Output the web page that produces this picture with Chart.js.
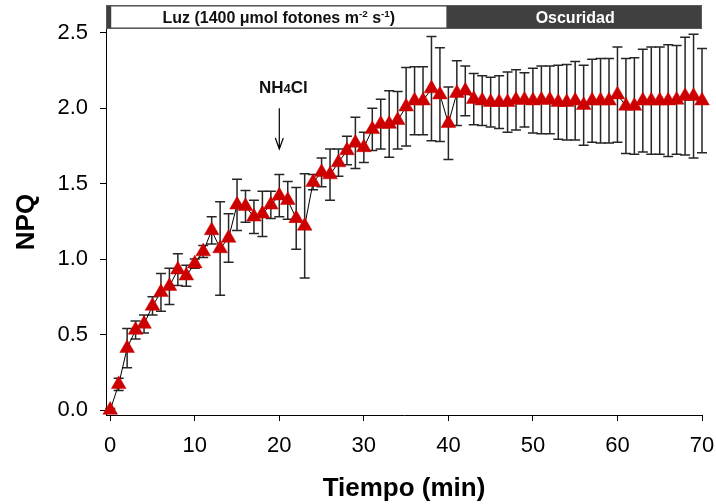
<!DOCTYPE html>
<html>
<head>
<meta charset="utf-8">
<script src="https://cdn.jsdelivr.net/npm/chart.js@4.4.1/dist/chart.umd.min.js"></script>
<style>
  html, body { margin: 0; padding: 0; background: #fff; }
  #wrap { width: 716px; height: 504px; }
</style>
</head>
<body>
<div id="wrap"><canvas id="npqChart" width="716" height="504"></canvas></div>
<script>
const FONT = '"Liberation Sans", Arial, Helvetica, sans-serif';

// tiempo (min)
const tiempo = [0, 1, 2, 3, 4, 5, 6, 7, 8, 9, 10, 11, 12, 13, 14, 15, 16, 17, 18, 19, 20,
  21, 22, 23, 24, 25, 26, 27, 28, 29, 30, 31, 32, 33, 34, 35, 36, 37, 38, 39, 40,
  41, 42, 43, 44, 45, 46, 47, 48, 49, 50, 51, 52, 53, 54, 55, 56, 57, 58, 59, 60,
  61, 62, 63, 64, 65, 66, 67, 68, 69, 70];

// NPQ medio
const npq = [0.00, 0.17, 0.41, 0.53, 0.57, 0.69, 0.78, 0.82, 0.93, 0.89, 0.97,
  1.05, 1.19, 1.07, 1.14, 1.36, 1.35, 1.28, 1.30, 1.36, 1.42,
  1.39, 1.27, 1.22, 1.51, 1.575, 1.56, 1.64, 1.72, 1.77, 1.74,
  1.86, 1.895, 1.895, 1.92, 2.01, 2.05, 2.05, 2.13, 2.09, 1.90,
  2.10, 2.115, 2.06, 2.05, 2.04, 2.04, 2.04, 2.055, 2.055, 2.05,
  2.055, 2.055, 2.04, 2.04, 2.05, 2.02, 2.05, 2.05, 2.05, 2.09,
  2.015, 2.015, 2.05, 2.05, 2.05, 2.05, 2.055, 2.08, 2.08, 2.05];

// desviacion estandar
const sd = [0.01, 0.04, 0.13, 0.06, 0.06, 0.06, 0.125, 0.12, 0.105, 0.07, 0.03,
  0.04, 0.09, 0.31, 0.16, 0.17, 0.105, 0.11, 0.15, 0.09, 0.14,
  0.125, 0.205, 0.345, 0.05, 0.095, 0.17, 0.09, 0.095, 0.17, 0.10,
  0.14, 0.165, 0.22, 0.19, 0.26, 0.225, 0.225, 0.345, 0.31, 0.24,
  0.215, 0.165, 0.17, 0.165, 0.165, 0.175, 0.2, 0.2, 0.18, 0.215,
  0.225, 0.225, 0.245, 0.25, 0.26, 0.265, 0.275, 0.28, 0.28, 0.315,
  0.315, 0.32, 0.34, 0.355, 0.355, 0.37, 0.36, 0.39, 0.41, 0.345];

const xTicks = [0, 10, 20, 30, 40, 50, 60, 70];
const yTicks = [0, 0.5, 1.0, 1.5, 2.0, 2.5];

// periodo de luz / oscuridad (min)
const luzInicio = 0, luzFin = 40, oscFin = 70;
// momento en que se agrega NH4Cl
const nh4clTiempo = 20;

const errorBars = {
  id: 'errorBars',
  beforeDatasetsDraw(chart) {
    const { ctx, scales: { x, y } } = chart;
    ctx.save();
    ctx.strokeStyle = '#262626';
    ctx.lineWidth = 1.5;
    tiempo.forEach((t, i) => {
      const px = x.getPixelForValue(t);
      const top = y.getPixelForValue(npq[i] + sd[i]);
      const bot = y.getPixelForValue(npq[i] - sd[i]);
      ctx.beginPath();
      ctx.moveTo(px, top); ctx.lineTo(px, bot);
      ctx.moveTo(px - 5, top); ctx.lineTo(px + 5, top);
      ctx.moveTo(px - 5, bot); ctx.lineTo(px + 5, bot);
      ctx.stroke();
    });
    ctx.restore();
  }
};

function drawRich(ctx, parts, cx, cy, size) {
  const widths = parts.map(p => {
    ctx.font = 'bold ' + (p.sup ? size * 0.62 : size) + 'px ' + FONT;
    return ctx.measureText(p.t).width;
  });
  let xx = cx - widths.reduce((a, b) => a + b, 0) / 2;
  parts.forEach((p, i) => {
    ctx.font = 'bold ' + (p.sup ? size * 0.62 : size) + 'px ' + FONT;
    ctx.fillText(p.t, xx, p.sup ? cy - size * 0.38 : cy);
    xx += widths[i];
  });
}

const extras = {
  id: 'extras',
  afterDraw(chart) {
    const { ctx, chartArea: area, scales: { x, y } } = chart;
    ctx.save();
    // barra luz / oscuridad
    const y0 = 5, y1 = 28;
    ctx.fillStyle = '#404040';
    ctx.fillRect(area.left, y0, area.right - area.left, y1 - y0);
    ctx.strokeStyle = '#5a5a5a';
    ctx.lineWidth = 1;
    ctx.strokeRect(area.left + 0.5, y0 + 0.5, area.right - area.left - 1, y1 - y0);
    const lx0 = x.getPixelForValue(luzInicio) + 1, lx1 = x.getPixelForValue(luzFin) - 2;
    ctx.fillStyle = '#ffffff';
    ctx.fillRect(lx0, y0 + 1.5, lx1 - lx0, y1 - y0 - 2);
    ctx.textBaseline = 'alphabetic';
    ctx.textAlign = 'left';
    ctx.fillStyle = '#111';
    drawRich(ctx, [
      { t: 'Luz (1400 \u03bcmol fotones m' }, { t: '-2', sup: true },
      { t: ' s' }, { t: '-1', sup: true }, { t: ')' }
    ], (lx0 + lx1) / 2, 23, 16);
    ctx.fillStyle = '#ffffff';
    ctx.textAlign = 'center';
    ctx.font = 'bold 16px ' + FONT;
    ctx.fillText('Oscuridad', (x.getPixelForValue(luzFin) + x.getPixelForValue(oscFin)) / 2, 23);

    // anotacion NH4Cl
    const ax = x.getPixelForValue(nh4clTiempo);
    ctx.fillStyle = '#111';
    ctx.textAlign = 'left';
    const parts = [['NH', 17], ['4', 13], ['Cl', 17]];
    let w = 0;
    parts.forEach(p => { ctx.font = 'bold ' + p[1] + 'px ' + FONT; w += ctx.measureText(p[0]).width; });
    let tx = ax + 4 - w / 2;
    const ty = y.getPixelForValue(2.10);
    parts.forEach(p => {
      ctx.font = 'bold ' + p[1] + 'px ' + FONT;
      ctx.fillText(p[0], tx, ty);
      tx += ctx.measureText(p[0]).width;
    });
    const aTop = y.getPixelForValue(2.0), aTip = y.getPixelForValue(1.73);
    ctx.strokeStyle = '#000';
    ctx.lineWidth = 1.2;
    ctx.beginPath();
    ctx.moveTo(ax, aTop); ctx.lineTo(ax, aTip);
    ctx.moveTo(ax - 4, aTip - 11); ctx.lineTo(ax, aTip); ctx.lineTo(ax + 4, aTip - 11);
    ctx.stroke();
    ctx.restore();
  }
};

new Chart(document.getElementById('npqChart'), {
  type: 'scatter',
  data: {
    datasets: [{
      label: 'NPQ',
      data: tiempo.map((t, i) => ({ x: t, y: npq[i] })),
      showLine: true,
      borderColor: '#000',
      borderWidth: 1,
      pointStyle: 'triangle',
      pointRadius: 8.5,
      pointHoverRadius: 8.5,
      pointBackgroundColor: '#cc0000',
      pointBorderColor: '#cc0000',
      pointBorderWidth: 0.5,
      clip: false
    }]
  },
  options: {
    responsive: false,
    animation: false,
    devicePixelRatio: 1,
    layout: { padding: { top: 29, right: 14, left: 0, bottom: 0 } },
    plugins: { legend: { display: false }, tooltip: { enabled: false } },
    scales: {
      x: {
        type: 'linear',
        min: -0.5,
        max: 70,
        afterBuildTicks: s => { s.ticks = xTicks.map(v => ({ value: v })); },
        afterFit: s => { s.height = 89; s.paddingLeft = 0; s.paddingRight = 0; },
        grid: { drawOnChartArea: false, tickLength: 6, color: '#000', tickWidth: 1 },
        border: { color: '#000', width: 1 },
        ticks: { color: '#000', padding: 12, font: { family: FONT, size: 22 } },
        title: { display: true, text: 'Tiempo (min)', color: '#000', padding: { top: 0, bottom: 0 },
          font: { family: FONT, size: 26, weight: 'bold' } }
      },
      y: {
        min: -0.033,
        max: 2.525,
        afterBuildTicks: s => { s.ticks = yTicks.map(v => ({ value: v })); },
        afterFit: s => { s.width = 106; s.paddingTop = 0; s.paddingBottom = 0; },
        grid: { drawOnChartArea: false, tickLength: 6, color: '#000', tickWidth: 1 },
        border: { color: '#000', width: 1 },
        ticks: { color: '#000', padding: 12, font: { family: FONT, size: 22 },
          callback: v => v.toFixed(1) },
        title: { display: true, text: 'NPQ', color: '#000', padding: { top: 11, bottom: 0 },
          font: { family: FONT, size: 26, weight: 'bold' } }
      }
    }
  },
  plugins: [errorBars, extras]
});
</script>
</body>
</html>
